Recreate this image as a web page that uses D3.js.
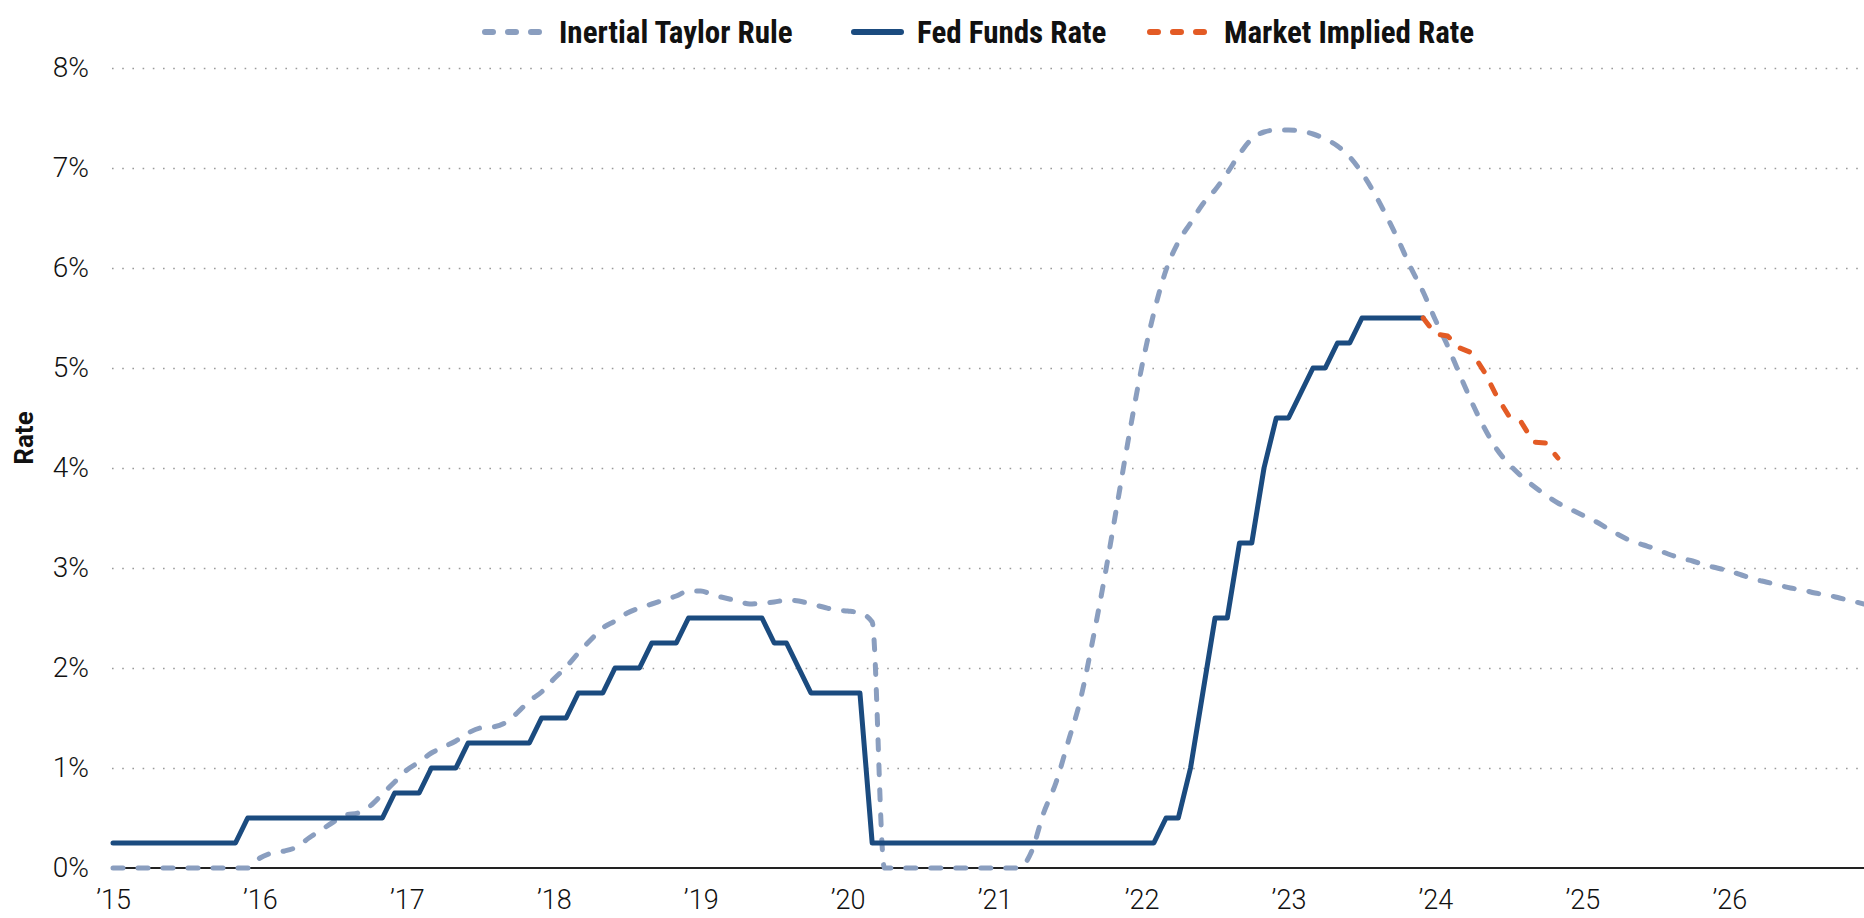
<!DOCTYPE html>
<html>
<head>
<meta charset="utf-8">
<script src="https://cdn.jsdelivr.net/npm/d3@7/dist/d3.min.js"></script>
<style>
body { margin: 0; background: #fff; }
text { font-family: Roboto, 'Open Sans', sans-serif; fill: #111; }
</style>
</head>
<body>
<div id="chart"></div>
<script>
// monthly values, first month given by each *Start
var taylorStart = [2015, 1];
var taylorRule = [
  0, 0, 0, 0, 0, 0, 0, 0, 0, 0, 0, 0,
  0.10, 0.15, 0.17, 0.21, 0.30, 0.38, 0.46, 0.53, 0.55, 0.62, 0.74, 0.86,
  0.98, 1.06, 1.15, 1.21, 1.27, 1.35, 1.40, 1.41, 1.45, 1.55, 1.67, 1.76,
  1.89, 2.01, 2.15, 2.28, 2.40, 2.47, 2.55, 2.60, 2.64, 2.68, 2.72, 2.77,
  2.77, 2.73, 2.70, 2.67, 2.64, 2.65, 2.66, 2.68, 2.67, 2.64, 2.61, 2.58,
  2.57, 2.55, 2.46, 0, 0, 0, 0, 0, 0, 0, 0, 0,
  0, 0, 0, 0.16, 0.55, 0.85, 1.26, 1.68, 2.27, 2.92, 3.63, 4.34,
  5.00, 5.55, 5.98, 6.26, 6.45, 6.64, 6.78, 6.95, 7.14, 7.29, 7.36, 7.38,
  7.38, 7.37, 7.34, 7.29, 7.22, 7.11, 6.95, 6.75, 6.52, 6.27, 6.00, 5.76,
  5.48, 5.22, 4.93, 4.65, 4.40, 4.19, 4.04, 3.92, 3.82, 3.73, 3.65, 3.59,
  3.53, 3.47, 3.40, 3.33, 3.27, 3.23, 3.19, 3.14, 3.10, 3.07, 3.03, 3.00,
  2.97, 2.93, 2.89, 2.86, 2.83, 2.80, 2.78, 2.75, 2.73, 2.70, 2.67, 2.64
];

var fedStart = [2015, 1];
var fedFunds = [
  0.25, 0.25, 0.25, 0.25, 0.25, 0.25, 0.25, 0.25, 0.25, 0.25, 0.25, 0.5,
  0.5, 0.5, 0.5, 0.5, 0.5, 0.5, 0.5, 0.5, 0.5, 0.5, 0.5, 0.75,
  0.75, 0.75, 1.0, 1.0, 1.0, 1.25, 1.25, 1.25, 1.25, 1.25, 1.25, 1.5,
  1.5, 1.5, 1.75, 1.75, 1.75, 2.0, 2.0, 2.0, 2.25, 2.25, 2.25, 2.5,
  2.5, 2.5, 2.5, 2.5, 2.5, 2.5, 2.25, 2.25, 2.0, 1.75, 1.75, 1.75,
  1.75, 1.75, 0.25, 0.25, 0.25, 0.25, 0.25, 0.25, 0.25, 0.25, 0.25, 0.25,
  0.25, 0.25, 0.25, 0.25, 0.25, 0.25, 0.25, 0.25, 0.25, 0.25, 0.25, 0.25,
  0.25, 0.25, 0.5, 0.5, 1.0, 1.75, 2.5, 2.5, 3.25, 3.25, 4.0, 4.5,
  4.5, 4.75, 5.0, 5.0, 5.25, 5.25, 5.5, 5.5, 5.5, 5.5, 5.5, 5.5
];

var marketStart = [2023, 12];
var marketImplied = [5.5, 5.34, 5.32, 5.2, 5.15, 4.96, 4.72, 4.52, 4.46, 4.26, 4.25, 4.1];

var yearTicks = [2015, 2016, 2017, 2018, 2019, 2020, 2021, 2022, 2023, 2024, 2025, 2026];
var rateTicks = [0, 1, 2, 3, 4, 5, 6, 7, 8];

var series = [
  {name: 'Inertial Taylor Rule', values: taylorRule, start: taylorStart, color: '#8a9ebf', dash: '10,15', curve: d3.curveMonotoneX},
  {name: 'Fed Funds Rate', values: fedFunds, start: fedStart, color: '#1b4b7f', dash: null, curve: d3.curveLinear},
  {name: 'Market Implied Rate', values: marketImplied, start: marketStart, color: '#e35b25', dash: '10,15', curve: d3.curveLinear}
];

var width = 1864;
var height = 918;

var svg = d3
    .select('#chart')
    .append('svg')
    .attr('width', width)
    .attr('height', height);

var x = d3.scaleLinear()
    .domain([2015, 2026 + 11/12])
    .range([113, 1864]);

var y = d3.scaleLinear()
    .domain([0, 8])
    .range([868, 68]);

// grid + y labels
var yAxis = svg.append('g')
    .attr('transform', 'translate(112,0)')
    .call(d3.axisLeft(y)
        .tickValues(rateTicks)
        .tickSize(-(width - 112))
        .tickPadding(23)
        .tickFormat(d => d + '%'));

yAxis.select('.domain').remove();
yAxis.selectAll('.tick line')
    .attr('stroke', '#9a9a9a')
    .attr('stroke-width', 1.6)
    .attr('stroke-dasharray', '1.6,8.6')
    .filter(d => d === 0).remove();
yAxis.selectAll('.tick text')
    .style('font-size', '28px')
    .style('font-weight', 300)
    .attr('fill', '#111');

// x labels
var xAxis = svg.append('g')
    .attr('transform', `translate(0,${y(0)})`)
    .call(d3.axisBottom(x)
        .tickValues(yearTicks)
        .tickSize(0)
        .tickPadding(22)
        .tickFormat(d => '\u2019' + String(d).slice(2)));

xAxis.select('.domain').remove();
xAxis.selectAll('.tick text')
    .style('font-size', '27px')
    .style('font-weight', 300)
    .attr('fill', '#111');

svg.append('line')
    .attr('x1', 112)
    .attr('x2', width)
    .attr('y1', y(0))
    .attr('y2', y(0))
    .attr('stroke', '#222')
    .attr('stroke-width', 2);

svg.append('text')
    .attr('transform', `translate(33,438)rotate(-90)`)
    .attr('text-anchor', 'middle')
    .style('font-size', '26px')
    .style('font-weight', 700)
    .text('Rate');

// lines
var line = d3.line()
    .x(d => x(d.t))
    .y(d => y(d.v));

series.forEach(function(s) {
  var pts = s.values.map((v, i) => ({t: s.start[0] + (s.start[1] - 1 + i) / 12, v: v}));
  svg.append('path')
      .datum(pts)
      .attr('fill', 'none')
      .attr('stroke', s.color)
      .attr('stroke-width', 5)
      .attr('stroke-linecap', 'round')
      .attr('stroke-linejoin', 'round')
      .attr('stroke-dasharray', s.dash)
      .attr('d', line.curve(s.curve));
});

// legend
var legendX = [482, 851, 1147];
var legend = svg.append('g')
    .attr('transform', 'translate(0,32)');

series.forEach(function(s, i) {
  var g = legend.append('g').attr('transform', `translate(${legendX[i]},0)`);
  g.append('line')
      .attr('x1', 3)
      .attr('x2', s.dash ? 62 : 50)
      .attr('stroke', s.color)
      .attr('stroke-width', 6)
      .attr('stroke-linecap', 'round')
      .attr('stroke-dasharray', s.dash ? '8,15' : null);
  g.append('text')
      .attr('x', s.dash ? 77 : 66)
      .attr('dy', '0.35em')
      .style('font-family', "'Roboto Condensed','Liberation Sans Narrow','DejaVu Sans Condensed',Roboto,sans-serif")
      .style('font-stretch', 'condensed')
      .style('font-size', '31px')
      .style('font-weight', 700)
      .text(s.name);
});
</script>
</body>
</html>
